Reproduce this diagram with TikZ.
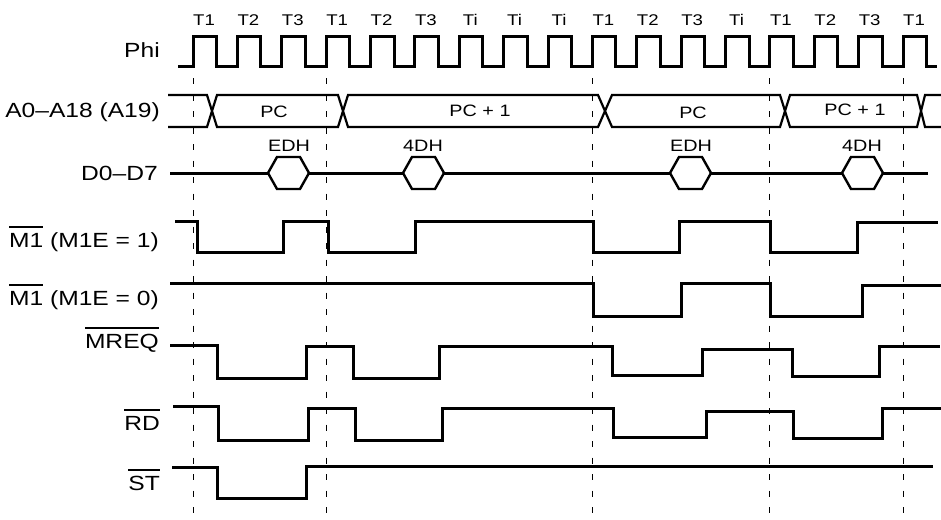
\documentclass[tikz,border=0pt]{standalone}
\usepackage{fontspec}
\setmainfont{Liberation Sans}[FakeStretch=1.2]
\usepackage{tikz}
\newcommand{\actlow}[1]{\vbox{\hrule height 1.8pt\kern 5pt\hbox{#1}}}

\begin{document}
\begin{tikzpicture}[x=1pt, y=-1pt,
  wave/.style={line width=3pt},
  bus/.style={line width=2.2pt},
  hexa/.style={line width=2.4pt, fill=white},
  tick/.style={line width=1pt, dash pattern=on 6pt off 10.5pt},
  lbl/.style={font=\fontsize{20.5}{24}\selectfont, anchor=base east, inner sep=0pt},
  cyc/.style={font=\fontsize{15.5}{18}\selectfont, inner sep=0pt},
  val/.style={font=\fontsize{16.5}{19}\selectfont, inner sep=0pt}]
\useasboundingbox (0,0) rectangle (941,519);
% signal names
\node[lbl] (phi) at (160,57) {Phi};
\node[lbl] (addr) at (160,117) {A0--A18 (A19)};
\node[lbl] (data) at (158,180) {D0--D7};
\node[lbl] (mone) at (159,247) {\actlow{M1} (M1E = 1)};
\node[lbl] (mzero) at (159,305) {\actlow{M1} (M1E = 0)};
\node[lbl] (mreq) at (159,348) {\actlow{MREQ}};
\node[lbl] (rd) at (160,430) {\actlow{RD}};
\node[lbl] (st) at (160,490) {\actlow{ST}};
% T-states and cycle boundaries
\foreach \t [count=\k from 0] in {T1,T2,T3,T1,T2,T3,Ti,Ti,Ti,T1,T2,T3,Ti,T1,T2,T3,T1}
  \node[cyc] (t\k) at ({204+44.375*\k},20) {\t};
\foreach \k in {0,3,9,13,16}
  \draw[tick] ({193+44.375*\k},78) -- ++(0,437);
% clock
\draw[wave] (178,66) \foreach \k in {0,...,16} { -- ({193+44.375*\k},66) -- ++(0,-29) -- ++(23.5,0) -- ++(0,29) } -- (937,66);
% address bus
\draw[bus] (168,95) -- (207,95) -- (217,127) -- (338,127) -- (348,95) -- (598,95) -- (612,127) -- (780,127) -- (790,95) -- (917,95) -- (925,127) -- (941,127);
\draw[bus] (168,127) -- (207,127) -- (217,95) -- (338,95) -- (348,127) -- (598,127) -- (612,95) -- (780,95) -- (790,127) -- (917,127) -- (925,95) -- (941,95);
\node[val] (pca) at (274,112) {PC};
\node[val] (pcb) at (480,111) {PC + 1};
\node[val] (pcc) at (693,113) {PC};
\node[val] (pcd) at (855,110) {PC + 1};
% data bus
\draw[wave] (170,173) -- (928,173);
\foreach \x in {268,403,670,842}
  \filldraw[hexa] (\x,173) -- ++(9,-16) -- ++(23,0) -- ++(9,16) -- ++(-9,16) -- ++(-23,0) -- cycle;
\node[val] (opa) at (289,146) {EDH};
\node[val] (opb) at (423,146) {4DH};
\node[val] (opc) at (691,146) {EDH};
\node[val] (opd) at (862,146) {4DH};
% M1, M1E = 1
\draw[wave] (175,221) -- (197,221) -- (197,252) -- (283,252) -- (283,221) -- (328,221) -- (328,252) -- (415,252) -- (415,221) -- (593,221) -- (593,252) -- (679,252) -- (679,221) -- (770,221) -- (770,252) -- (857,252) -- (857,222) -- (938,222);
% M1, M1E = 0
\draw[wave] (170,283) -- (593,283) -- (593,316) -- (681,316) -- (681,283) -- (770,283) -- (770,316) -- (862,316) -- (862,285) -- (941,285);
% MREQ
\draw[wave] (170,345) -- (217,345) -- (217,378) -- (306,378) -- (306,346) -- (353,346) -- (353,378) -- (439,378) -- (439,346) -- (612,346) -- (612,375) -- (702,375) -- (702,349) -- (792,349) -- (792,376) -- (879,376) -- (879,346) -- (940,346);
% RD
\draw[wave] (173,406) -- (218,406) -- (218,440) -- (308,440) -- (308,408) -- (355,408) -- (355,440) -- (442,440) -- (442,408) -- (613,408) -- (613,437) -- (706,437) -- (706,411) -- (793,411) -- (793,438) -- (882,438) -- (882,408) -- (941,408);
% ST
\draw[wave] (172,467) -- (217,467) -- (217,498) -- (306,498) -- (306,466) -- (933,466);
\end{tikzpicture}
\end{document}
